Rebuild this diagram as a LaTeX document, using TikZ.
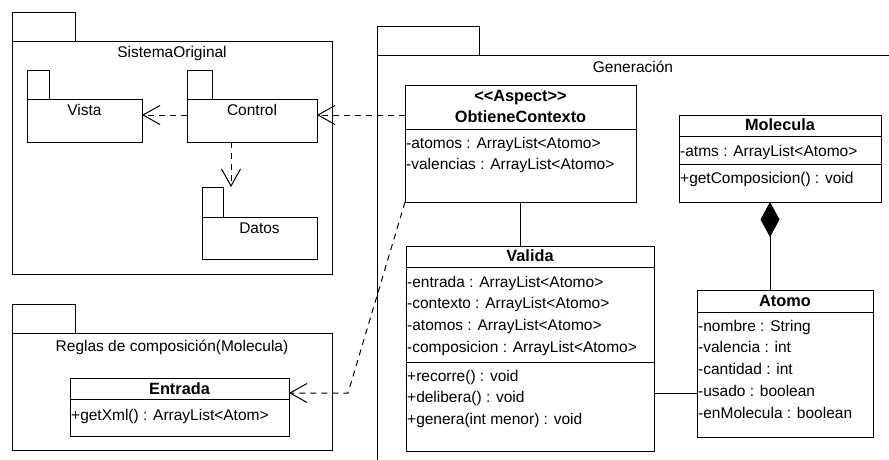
\documentclass[tikz,border=0pt]{standalone}
\usepackage{fontspec}
\setmainfont{Liberation Sans}
\usetikzlibrary{arrows.meta,positioning}

\tikzset{
  uml/.style={font=\fontsize{15.5}{18}\selectfont},
  box/.style={draw, line width=1pt, anchor=north west, inner sep=0pt, outer sep=0pt},
  member/.style={anchor=west, inner sep=1pt, text height=11pt, text depth=3pt},
  cname/.style={inner sep=0pt, text height=11pt, text depth=3pt, font=\bfseries\fontsize{16.3}{18}\selectfont},
  plabel/.style={inner sep=0pt, text height=11pt, text depth=3pt},
  dep/.style={line width=1pt, dash pattern=on 6pt off 5pt, -{Straight Barb[length=17pt, width=19pt]}},
  comp/.style={line width=1pt, {Diamond[length=35pt, width=19pt]}-},
  assoc/.style={line width=1pt}
}

\begin{document}
\begin{tikzpicture}[x=1pt, y=1pt, uml]
\clip (0,0) rectangle (889,-459);

% package SistemaOriginal
\node[box, minimum width=320pt, minimum height=233pt] (sis) at (12,-41) {};
\node[box, minimum width=63pt, minimum height=29pt, anchor=south west] (sisTab) at (sis.north west) {};
\node[plabel] (sisName) at ([yshift=-12pt]sis.north) {SistemaOriginal};

\node[box, minimum width=115pt, minimum height=43pt] (vista) at (27,-99) {};
\node[box, minimum width=22pt, minimum height=29pt, anchor=south west] (vistaTab) at (vista.north west) {};
\node[plabel] (vistaName) at ([yshift=-12.5pt]vista.north) {Vista};

\node[box, minimum width=130pt, minimum height=43pt] (control) at (187,-99) {};
\node[box, minimum width=25pt, minimum height=29pt, anchor=south west] (controlTab) at (control.north west) {};
\node[plabel] (controlName) at ([yshift=-12.5pt]control.north) {Control};

\node[box, minimum width=115pt, minimum height=42pt] (datos) at (202,-217) {};
\node[box, minimum width=21pt, minimum height=30pt, anchor=south west] (datosTab) at (datos.north west) {};
\node[plabel] (datosName) at ([yshift=-12pt]datos.north) {Datos};

% package Reglas
\node[box, minimum width=320pt, minimum height=117pt] (reglas) at (12,-333) {};
\node[box, minimum width=63pt, minimum height=29pt, anchor=south west] (reglasTab) at (reglas.north west) {};
\node[plabel] (reglasName) at ([yshift=-14pt]reglas.north) {Reglas de composición(Molecula)};

\node[box, minimum width=219pt, minimum height=58pt] (entrada) at (70,-378) {};
\node[cname] (entradaName) at ([yshift=-12pt]entrada.north) {Entrada};
\draw[assoc] ([yshift=-21pt]entrada.north west) -- ([yshift=-21pt]entrada.north east);
\node[member] (entradaM1) at ([yshift=-38pt]entrada.north west) {+getXml() : ArrayList<Atom>};

% package Generacion
\node[box, minimum width=540pt, minimum height=420pt] (gen) at (377,-55) {};
\node[box, minimum width=102pt, minimum height=29pt, anchor=south west] (genTab) at (gen.north west) {};
\node[plabel] (genName) at ([shift={(256pt,-13pt)}]gen.north west) {Generación};

\node[box, minimum width=231pt, minimum height=117pt] (obt) at (405,-85) {};
\node[cname] (obtSt) at ([yshift=-12pt]obt.north) {<\kern0pt<Aspect>\kern0pt>};
\node[cname] (obtName) at ([yshift=-33pt]obt.north) {ObtieneContexto};
\draw[assoc] ([yshift=-44pt]obt.north west) -- ([yshift=-44pt]obt.north east);
\foreach \t [count=\i] in {-atomos : ArrayList<Atomo>, -valencias : ArrayList<Atomo>}
  \node[member] (obtA\i) at ([yshift={-59pt-(\i-1)*21.7pt}]obt.north west) {\t};

\node[box, minimum width=202pt, minimum height=87pt] (molecula) at (679,-115) {};
\node[cname] (moleculaName) at ([yshift=-11pt]molecula.north) {Molecula};
\draw[assoc] ([yshift=-21pt]molecula.north west) -- ([yshift=-21pt]molecula.north east);
\node[member] (moleculaA1) at ([yshift=-37pt]molecula.north west) {-atms : ArrayList<Atomo>};
\draw[assoc] ([yshift=-49pt]molecula.north west) -- ([yshift=-49pt]molecula.north east);
\node[member] (moleculaM1) at ([yshift=-64pt]molecula.north west) {+getComposicion() : void};

\node[box, minimum width=248pt, minimum height=205pt] (valida) at (406,-246) {};
\node[cname] (validaName) at ([yshift=-11pt]valida.north) {Valida};
\draw[assoc] ([yshift=-21pt]valida.north west) -- ([yshift=-21pt]valida.north east);
\foreach \t [count=\i] in {-entrada : ArrayList<Atomo>, -contexto : ArrayList<Atomo>,
    -atomos : ArrayList<Atomo>, -composicion : ArrayList<Atomo>}
  \node[member] (validaA\i) at ([yshift={-37pt-(\i-1)*21.9pt}]valida.north west) {\t};
\draw[assoc] ([yshift=-116pt]valida.north west) -- ([yshift=-116pt]valida.north east);
\foreach \t [count=\i] in {+recorre() : void, +delibera() : void, +genera(int menor) : void}
  \node[member] (validaM\i) at ([yshift={-131pt-(\i-1)*21.9pt}]valida.north west) {\t};

\node[box, minimum width=176pt, minimum height=147pt] (atomo) at (697,-290) {};
\node[cname] (atomoName) at ([yshift=-12pt]atomo.north) {Atomo};
\draw[assoc] ([yshift=-22pt]atomo.north west) -- ([yshift=-22pt]atomo.north east);
\foreach \t [count=\i] in {-nombre : String, -valencia : int, -cantidad : int,
    -usado : boolean, -enMolecula : boolean}
  \node[member] (atomoA\i) at ([yshift={-37pt-(\i-1)*21.8pt}]atomo.north west) {\t};

% connectors
\coordinate (obtL) at ([yshift=28.5pt]obt.west);
\draw[dep] (obtL) -- (obtL -| control.east);
\draw[dep] ([yshift=5.5pt]control.west) -- ([yshift=5.5pt]vista.east);
\coordinate (ctlS) at ([xshift=-21pt]control.south);
\draw[dep] (ctlS) -- (ctlS |- datosTab.north);
\coordinate (entE) at ([yshift=14pt]entrada.east);
\draw[dep] (obt.south west) -- ([xshift=59pt]entE) -- (entE);
\draw[assoc] (obt.south) -- (obt.south |- valida.north);
\coordinate (molS) at ([xshift=-10pt]molecula.south);
\draw[comp] (molS) -- (molS |- atomo.north);
\coordinate (atoL) at ([yshift=-29.5pt]atomo.west);
\draw[assoc] (atoL -| valida.east) -- (atoL);
\end{tikzpicture}
\end{document}
